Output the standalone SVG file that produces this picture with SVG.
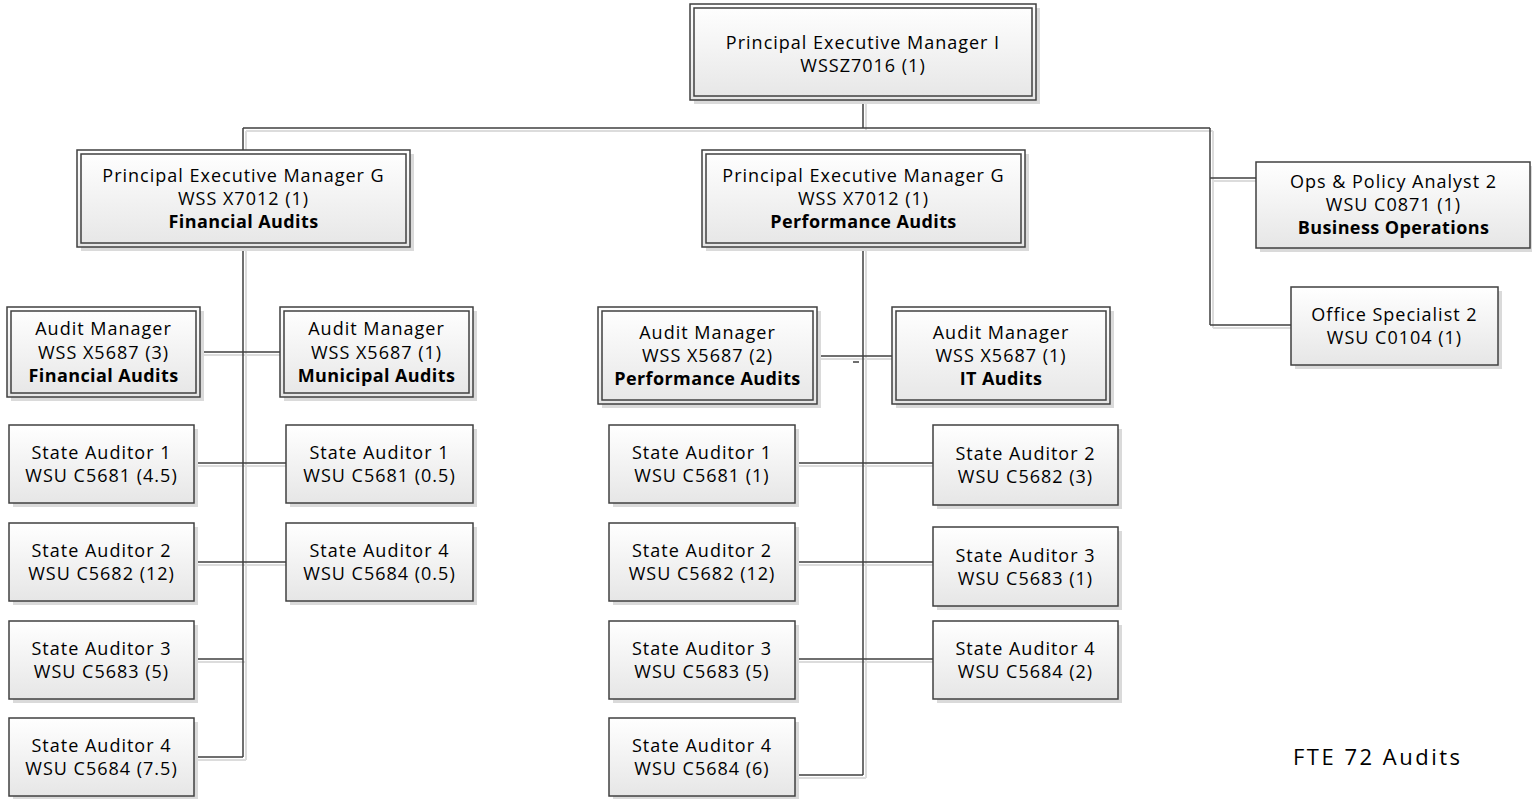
<svg xmlns="http://www.w3.org/2000/svg" width="1532" height="799" viewBox="0 0 1532 799">
<defs>
<linearGradient id="g" x1="0" y1="0" x2="0" y2="1">
<stop offset="0" stop-color="#ffffff"/>
<stop offset="1" stop-color="#e6e6e6"/>
</linearGradient>
</defs>
<style>
.sh{fill:#dadada}
.bx{fill:url(#g);stroke:#404040;stroke-width:1.5}
.in{fill:none;stroke:#404040;stroke-width:1.5}
.t{font-family:"Open Sans","Liberation Sans",sans-serif;font-size:18px;letter-spacing:1px;text-anchor:middle;fill:#000}
.b{font-weight:bold;letter-spacing:0.4px}
.c{fill:none;stroke:#404040;stroke-width:1.5}
.cs{fill:none;stroke:#dcdcdc;stroke-width:2}
</style>
<rect width="1532" height="799" fill="#ffffff"/>
<g id="connectors">
<path class="cs" d="M866,100V131M246,131H1213M246,131V150M1213,131V328M1213,181H1256M1213,328H1291M246,247V760M200,355H280M194,466H286M194,565H286M194,662H246M194,760H246M866,247V778M817,359H892M795,466H933M795,565H933M795,662H933M795,778H866"/>
<path class="c" d="M863,100V128M243,128H1210M243,128V150M1210,128V325M1210,178H1256M1210,325H1291M243,247V757M200,352H280M194,463H286M194,562H286M194,659H243M194,757H243M863,247V775M817,356H892M795,463H933M795,562H933M795,659H933M795,775H863M853,362H859"/>
</g>
<g id="n-top">
<rect class="sh" x="694" y="8" width="346" height="96"/>
<rect class="bx" x="690" y="4" width="346" height="96"/>
<rect class="in" x="694" y="8" width="338" height="88"/>
<text class="t" x="863" y="49">Principal Executive Manager I</text>
<text class="t" x="863" y="72">WSSZ7016 (1)</text>
</g>
<g id="n-pem-fin">
<rect class="sh" x="81" y="154" width="333" height="97"/>
<rect class="bx" x="77" y="150" width="333" height="97"/>
<rect class="in" x="81" y="154" width="325" height="89"/>
<text class="t" x="243.5" y="182">Principal Executive Manager G</text>
<text class="t" x="243.5" y="205">WSS X7012 (1)</text>
<text class="t b" x="243.5" y="228">Financial Audits</text>
</g>
<g id="n-pem-perf">
<rect class="sh" x="706" y="154" width="323" height="97"/>
<rect class="bx" x="702" y="150" width="323" height="97"/>
<rect class="in" x="706" y="154" width="315" height="89"/>
<text class="t" x="863.5" y="182">Principal Executive Manager G</text>
<text class="t" x="863.5" y="205">WSS X7012 (1)</text>
<text class="t b" x="863.5" y="228">Performance Audits</text>
</g>
<g id="n-ops">
<rect class="sh" x="1260" y="166" width="275" height="86"/>
<rect class="bx" x="1256" y="162" width="274" height="86"/>
<text class="t" x="1393.5" y="188">Ops &amp; Policy Analyst 2</text>
<text class="t" x="1393.5" y="211">WSU C0871 (1)</text>
<text class="t b" x="1393.5" y="234">Business Operations</text>
</g>
<g id="n-office">
<rect class="sh" x="1295" y="291" width="207" height="78"/>
<rect class="bx" x="1291" y="287" width="207" height="78"/>
<text class="t" x="1394.5" y="321">Office Specialist 2</text>
<text class="t" x="1394.5" y="344">WSU C0104 (1)</text>
</g>
<g id="n-am-fin">
<rect class="sh" x="11" y="311" width="193" height="90"/>
<rect class="bx" x="7" y="307" width="193" height="90"/>
<rect class="in" x="11" y="311" width="185" height="82"/>
<text class="t" x="103.5" y="335">Audit Manager</text>
<text class="t" x="103.5" y="358.5">WSS X5687 (3)</text>
<text class="t b" x="103.5" y="382">Financial Audits</text>
</g>
<g id="n-am-mun">
<rect class="sh" x="284" y="311" width="193" height="90"/>
<rect class="bx" x="280" y="307" width="193" height="90"/>
<rect class="in" x="284" y="311" width="185" height="82"/>
<text class="t" x="376.5" y="335">Audit Manager</text>
<text class="t" x="376.5" y="358.5">WSS X5687 (1)</text>
<text class="t b" x="376.5" y="382">Municipal Audits</text>
</g>
<g id="n-am-perf">
<rect class="sh" x="602" y="311" width="219" height="97"/>
<rect class="bx" x="598" y="307" width="219" height="97"/>
<rect class="in" x="602" y="311" width="211" height="89"/>
<text class="t" x="707.5" y="339">Audit Manager</text>
<text class="t" x="707.5" y="362">WSS X5687 (2)</text>
<text class="t b" x="707.5" y="385">Performance Audits</text>
</g>
<g id="n-am-it">
<rect class="sh" x="896" y="311" width="218" height="97"/>
<rect class="bx" x="892" y="307" width="218" height="97"/>
<rect class="in" x="896" y="311" width="210" height="89"/>
<text class="t" x="1001" y="339">Audit Manager</text>
<text class="t" x="1001" y="362">WSS X5687 (1)</text>
<text class="t b" x="1001" y="385">IT Audits</text>
</g>
<g id="n-f-sa1">
<rect class="sh" x="13" y="429" width="185" height="78"/>
<rect class="bx" x="9" y="425" width="185" height="78"/>
<text class="t" x="101.5" y="459">State Auditor 1</text>
<text class="t" x="101.5" y="482">WSU C5681 (4.5)</text>
</g>
<g id="n-f-sa2">
<rect class="sh" x="13" y="527" width="185" height="78"/>
<rect class="bx" x="9" y="523" width="185" height="78"/>
<text class="t" x="101.5" y="557">State Auditor 2</text>
<text class="t" x="101.5" y="580">WSU C5682 (12)</text>
</g>
<g id="n-f-sa3">
<rect class="sh" x="13" y="625" width="185" height="78"/>
<rect class="bx" x="9" y="621" width="185" height="78"/>
<text class="t" x="101.5" y="655">State Auditor 3</text>
<text class="t" x="101.5" y="678">WSU C5683 (5)</text>
</g>
<g id="n-f-sa4">
<rect class="sh" x="13" y="722" width="185" height="78"/>
<rect class="bx" x="9" y="718" width="185" height="78"/>
<text class="t" x="101.5" y="752">State Auditor 4</text>
<text class="t" x="101.5" y="775">WSU C5684 (7.5)</text>
</g>
<g id="n-m-sa1">
<rect class="sh" x="290" y="429" width="187" height="78"/>
<rect class="bx" x="286" y="425" width="187" height="78"/>
<text class="t" x="379.5" y="459">State Auditor 1</text>
<text class="t" x="379.5" y="482">WSU C5681 (0.5)</text>
</g>
<g id="n-m-sa4">
<rect class="sh" x="290" y="527" width="187" height="78"/>
<rect class="bx" x="286" y="523" width="187" height="78"/>
<text class="t" x="379.5" y="557">State Auditor 4</text>
<text class="t" x="379.5" y="580">WSU C5684 (0.5)</text>
</g>
<g id="n-p-sa1">
<rect class="sh" x="613" y="429" width="186" height="78"/>
<rect class="bx" x="609" y="425" width="186" height="78"/>
<text class="t" x="702" y="459">State Auditor 1</text>
<text class="t" x="702" y="482">WSU C5681 (1)</text>
</g>
<g id="n-p-sa2">
<rect class="sh" x="613" y="527" width="186" height="78"/>
<rect class="bx" x="609" y="523" width="186" height="78"/>
<text class="t" x="702" y="557">State Auditor 2</text>
<text class="t" x="702" y="580">WSU C5682 (12)</text>
</g>
<g id="n-p-sa3">
<rect class="sh" x="613" y="625" width="186" height="78"/>
<rect class="bx" x="609" y="621" width="186" height="78"/>
<text class="t" x="702" y="655">State Auditor 3</text>
<text class="t" x="702" y="678">WSU C5683 (5)</text>
</g>
<g id="n-p-sa4">
<rect class="sh" x="613" y="722" width="186" height="78"/>
<rect class="bx" x="609" y="718" width="186" height="78"/>
<text class="t" x="702" y="752">State Auditor 4</text>
<text class="t" x="702" y="775">WSU C5684 (6)</text>
</g>
<g id="n-it-sa2">
<rect class="sh" x="937" y="429" width="185" height="80"/>
<rect class="bx" x="933" y="425" width="185" height="80"/>
<text class="t" x="1025.5" y="460">State Auditor 2</text>
<text class="t" x="1025.5" y="483">WSU C5682 (3)</text>
</g>
<g id="n-it-sa3">
<rect class="sh" x="937" y="531" width="185" height="79"/>
<rect class="bx" x="933" y="527" width="185" height="79"/>
<text class="t" x="1025.5" y="561.5">State Auditor 3</text>
<text class="t" x="1025.5" y="584.5">WSU C5683 (1)</text>
</g>
<g id="n-it-sa4">
<rect class="sh" x="937" y="625" width="185" height="78"/>
<rect class="bx" x="933" y="621" width="185" height="78"/>
<text class="t" x="1025.5" y="655">State Auditor 4</text>
<text class="t" x="1025.5" y="678">WSU C5684 (2)</text>
</g>
<text id="fte" x="1293" y="765" font-family="'Open Sans','Liberation Sans',sans-serif" font-size="22" letter-spacing="2.5" fill="#000">FTE 72 Audits</text>
</svg>
